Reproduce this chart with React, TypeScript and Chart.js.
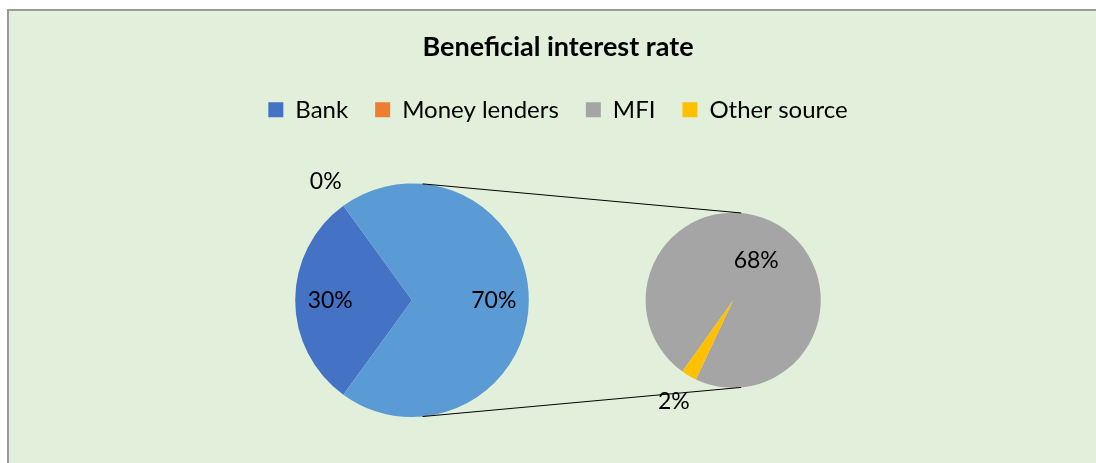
import React, { useEffect, useRef } from 'react';
import { Chart, registerables } from 'chart.js';

Chart.register(...registerables);

// ---- data ----
const titleText = 'Beneficial interest rate';
const categories = ['Bank', 'Money lenders', 'MFI', 'Other source'];
const shares = [30, 0, 68, 2];
const categoryColors = ['#4472C4', '#ED7D31', '#A5A5A5', '#FFC000'];
const secondPlotCount = 2; // last N categories are split into the second pie
const otherLabel = 'Other';
const otherColor = '#5B9BD5';

const primaryCount = categories.length - secondPlotCount;
const secondaryValues = shares.slice(primaryCount);
const primaryValues = [
  ...shares.slice(0, primaryCount),
  secondaryValues.reduce((a, b) => a + b, 0),
];
const primaryLabels = [...categories.slice(0, primaryCount), otherLabel];
const primaryColors = [...categoryColors.slice(0, primaryCount), otherColor];
const secondaryColors = categoryColors.slice(primaryCount);
const total = shares.reduce((a, b) => a + b, 0);

const FONT = 'Lato, "Open Sans", "DejaVu Sans", sans-serif';

const pieOfPiePlugin = {
  id: 'pieOfPie',
  beforeDraw(chart: any) {
    const { ctx, width, height } = chart;
    ctx.save();
    ctx.fillStyle = '#ffffff';
    ctx.fillRect(0, 0, width, height);
    ctx.fillStyle = '#9a9a9a';
    ctx.fillRect(7, 9, width, height);
    ctx.fillStyle = '#E2EFDA';
    ctx.fillRect(9, 11, width, height);
    ctx.restore();
  },
  afterDatasetsUpdate(chart: any, _args: any, opts: any) {
    const a = chart.chartArea;
    const r1 = (a.bottom - a.top) / 2;
    const cy = (a.top + a.bottom) / 2;
    const r2 = r1 * opts.secondSize;
    const gap = r1 * opts.gapRatio;
    const groupWidth = 2 * r1 + gap + 2 * r2;
    const left = (a.left + a.right) / 2 - groupWidth / 2;
    const cx1 = left + r1;
    const cx2 = cx1 + r1 + gap + r2;
    chart.$pop = { r1, r2, cx1, cx2, cy };
    const place = (meta: any, cx: number, r: number) => {
      meta.data.forEach((arc: any) => {
        arc.x = cx;
        arc.y = cy;
        arc.innerRadius = 0;
        arc.outerRadius = r;
      });
    };
    place(chart.getDatasetMeta(0), cx1, r1);
    place(chart.getDatasetMeta(1), cx2, r2);
  },
  afterDatasetsDraw(chart: any, _args: any, opts: any) {
    const p = chart.$pop;
    if (!p) return;
    const { ctx } = chart;
    const d = p.cx2 - p.cx1;
    const th = Math.asin((p.r1 - p.r2) / d);
    const s = Math.sin(th);
    const c = Math.cos(th);
    ctx.save();
    ctx.strokeStyle = '#000';
    ctx.lineWidth = 1;
    ctx.beginPath();
    ctx.moveTo(p.cx1 + p.r1 * s, p.cy - p.r1 * c);
    ctx.lineTo(p.cx2 + p.r2 * s, p.cy - p.r2 * c);
    ctx.moveTo(p.cx1 + p.r1 * s, p.cy + p.r1 * c);
    ctx.lineTo(p.cx2 + p.r2 * s, p.cy + p.r2 * c);
    ctx.stroke();

    ctx.fillStyle = '#000';
    ctx.font = `${opts.labelSize}px ${FONT}`;
    ctx.textAlign = 'center';
    ctx.textBaseline = 'middle';
    const drawLabels = (dsIndex: number, values: number[], r: number, frac: number) => {
      const meta = chart.getDatasetMeta(dsIndex);
      meta.data.forEach((arc: any, i: number) => {
        const pct = Math.round((values[i] / total) * 100);
        const mid = (arc.startAngle + arc.endAngle) / 2;
        const inside = pct >= 5;
        const dist = inside ? r * frac : r + opts.outsideGap;
        ctx.fillText(`${pct}%`, arc.x + Math.cos(mid) * dist, arc.y + Math.sin(mid) * dist);
      });
    };
    drawLabels(0, primaryValues, p.r1, 0.7);
    drawLabels(1, secondaryValues, p.r2, 0.52);
    ctx.restore();
  },
};

export default function App() {
  const canvasRef = useRef<HTMLCanvasElement | null>(null);

  useEffect(() => {
    const canvas = canvasRef.current;
    if (!canvas) return;
    const chart = new Chart(canvas, {
      type: 'pie',
      data: {
        labels: primaryLabels,
        datasets: [
          {
            data: primaryValues,
            backgroundColor: primaryColors,
            borderWidth: 0,
            rotation: 216,
            clip: false,
          } as any,
          {
            data: secondaryValues,
            backgroundColor: secondaryColors,
            borderWidth: 0,
            rotation: 215.5,
            clip: false,
          } as any,
        ],
      },
      options: {
        responsive: false,
        animation: false,
        events: [],
        layout: { padding: { left: 30, right: 10, top: 0, bottom: 46 } },
        plugins: {
          title: {
            display: true,
            text: titleText,
            color: '#000',
            font: { family: FONT, size: 27, weight: 'bold', lineHeight: 1.2 },
            padding: { top: 30.8, bottom: 7.6 },
          },
          legend: {
            display: true,
            position: 'top',
            labels: {
              color: '#000',
              font: { family: FONT, size: 24 },
              boxWidth: 15,
              boxHeight: 15,
              padding: 27,
              generateLabels: () =>
                categories.map((text, i) => ({
                  text,
                  fillStyle: categoryColors[i],
                  strokeStyle: categoryColors[i],
                  lineWidth: 0,
                  hidden: false,
                  index: i,
                  datasetIndex: 0,
                })),
            },
          },
          subtitle: {
            display: true,
            text: '',
            weight: 500,
            font: { family: FONT, size: 10, lineHeight: 1 },
            padding: { top: 0, bottom: 41.6 },
          } as any,
          tooltip: { enabled: false },
          pieOfPie: { secondSize: 0.75, gapRatio: 1.0, labelSize: 23, outsideGap: 30 },
        } as any,
      },
      plugins: [pieOfPiePlugin],
    });
    return () => chart.destroy();
  }, []);

  return (
    <div style={{ position: 'fixed', left: 0, top: 0, width: 1096, height: 463, overflow: 'hidden' }}>
      <canvas ref={canvasRef} width={1096} height={463} style={{ display: 'block' }} />
    </div>
  );
}
